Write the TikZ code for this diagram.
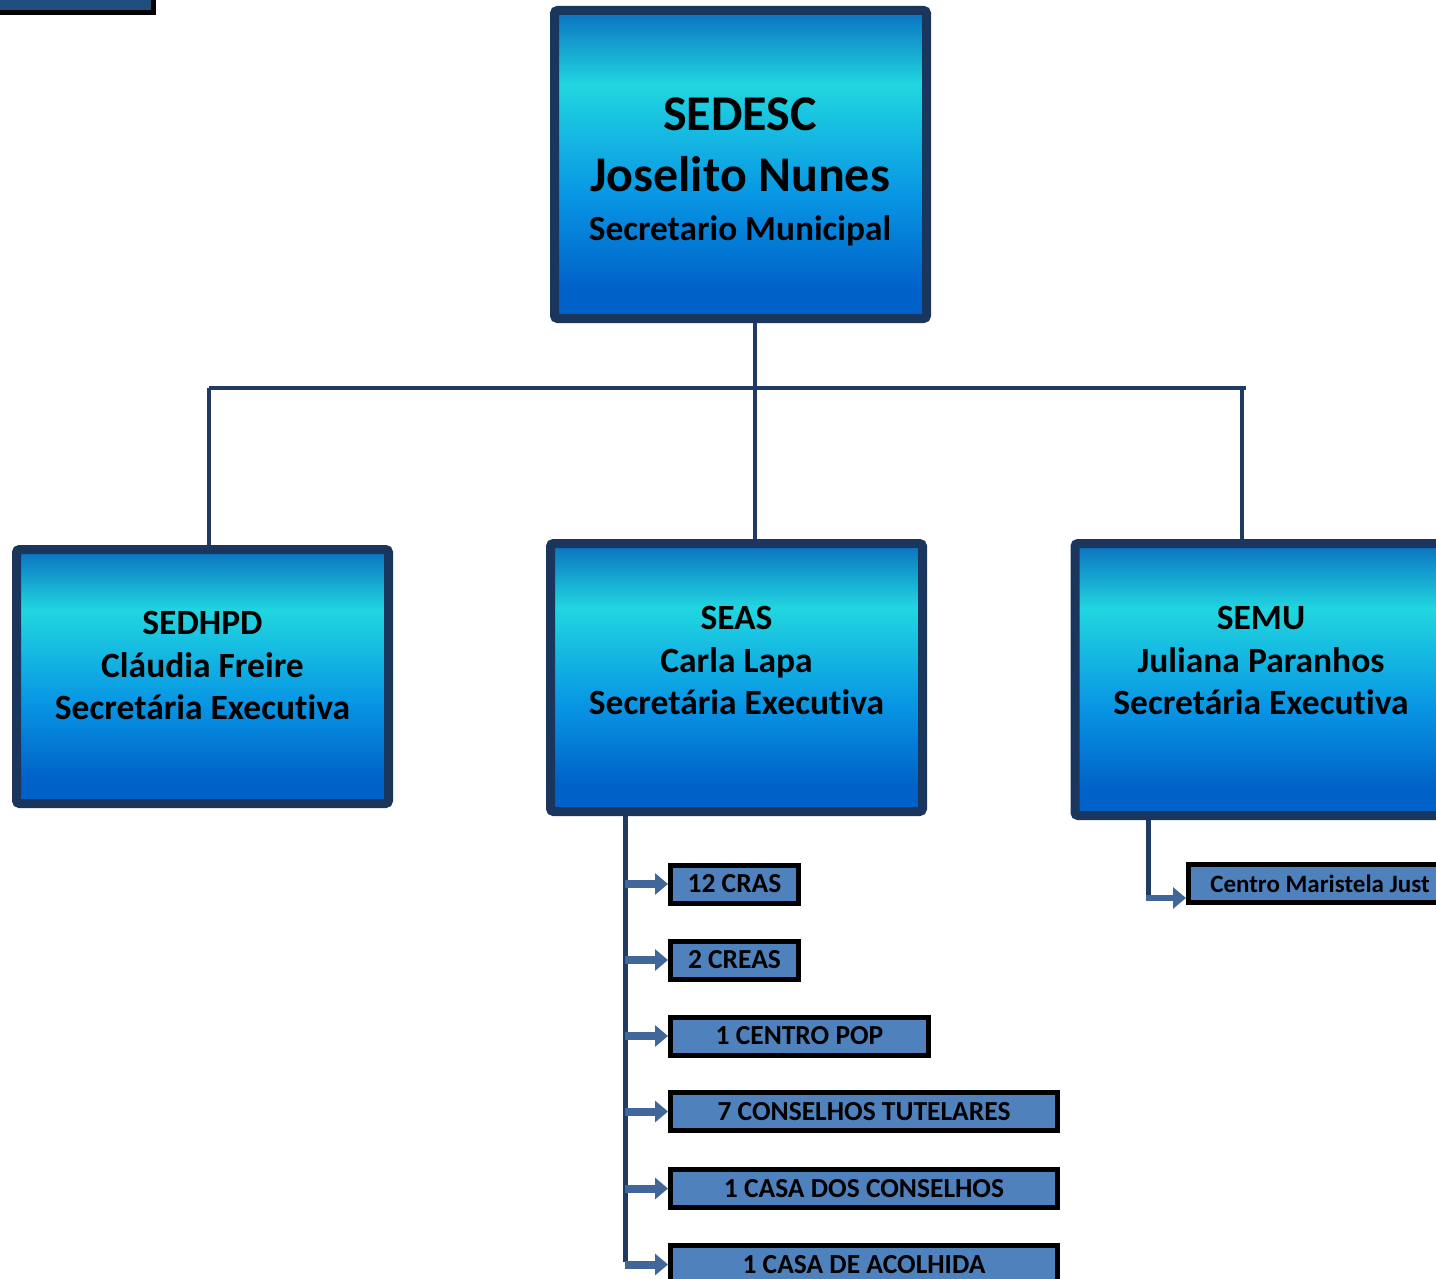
\documentclass[tikz,border=0pt]{standalone}
\usepackage{fontspec}
\setmainfont{Carlito}[Ligatures=NoCommon]
\usetikzlibrary{arrows.meta,positioning}

\definecolor{moldura}{RGB}{26,54,93}
\definecolor{ramo}{RGB}{31,58,99}
\definecolor{seta}{RGB}{65,103,154}
\definecolor{unidade}{RGB}{79,129,189}
\definecolor{canto}{RGB}{31,78,126}
\definecolor{gtopo}{RGB}{10,112,192}
\definecolor{gciano}{RGB}{33,214,224}
\definecolor{gmeio}{RGB}{8,150,228}
\definecolor{gbase}{RGB}{0,98,200}

\pgfdeclareverticalshading{secgrad}{100bp}{color(0bp)=(gbase); color(25bp)=(gbase);
  color(30bp)=(gbase); color(45bp)=(gmeio); color(63bp)=(gciano); color(75bp)=(gtopo);
  color(100bp)=(gtopo)}

\tikzset{
  secbox/.style={draw=moldura, line width=9pt, rounded corners=3pt, shading=secgrad,
    minimum width=372pt, inner sep=0pt},
  sectxt/.style={anchor=north, inner sep=0pt, align=center,
    font=\bfseries\fontsize{35.5}{42.5}\selectfont},
  unitbox/.style={draw=black, line width=5pt, fill=unidade, minimum height=38pt,
    inner sep=0pt, font=\bfseries\fontsize{27.5}{32}\selectfont},
  tree/.style={draw=ramo, line width=4pt},
  feed/.style={draw=seta, line width=8pt, -{Triangle[length=13pt,width=21pt]}},
}

\begin{document}
\begin{tikzpicture}[x=1pt, y=-1pt]
  \useasboundingbox (0,0) rectangle (1436,1279);
  \clip (0,0) rectangle (1436,1279);

  % Caixa cortada no canto
  \node[draw=black, line width=5pt, fill=canto, minimum width=183.5pt,
    minimum height=42.5pt] (canto) at (61.75,-8.75) {};

  % Secretario municipal
  \node[secbox, minimum height=308pt] (sedesc) at (740.5,164.5) {};
  \node[anchor=north, inner sep=0pt, align=center,
    font=\bfseries\fontsize{50}{61}\selectfont] (sedesc-t) at (740,98)
    {SEDESC\\Joselito Nunes\\[-12pt]
     {\fontsize{35.3}{47}\selectfont Secretario Municipal}};

  % Secretarias executivas
  \node[secbox, minimum height=254pt] (sedhpd) at (202.5,676.5) {};
  \node[sectxt] (sedhpd-t) at (202.5,611.5) {SEDHPD\\Cláudia Freire\\Secretária Executiva};

  \node[secbox, minimum height=268pt] (seas) at (736.5,677.5) {};
  \node[sectxt] (seas-t) at (736.5,606.5) {SEAS\\Carla Lapa\\Secretária Executiva};

  \node[secbox, minimum height=272pt] (semu) at (1261,679.5) {};
  \node[sectxt] (semu-t) at (1261,606.5) {SEMU\\Juliana Paranhos\\Secretária Executiva};

  % Unidades da SEAS
  \node[unitbox, minimum width=128pt] (cras) at (734.5,884) {12 CRAS};
  \node[unitbox, minimum width=128pt] (creas) at (734.5,960) {2 CREAS};
  \node[unitbox, minimum width=258pt] (pop) at (799.5,1036) {1 CENTRO POP};
  \node[unitbox, minimum width=387pt] (conselhos) at (864,1111.5) {7 CONSELHOS TUTELARES};
  \node[unitbox, minimum width=387pt] (casa) at (864,1188.5) {1 CASA DOS CONSELHOS};
  \node[unitbox, minimum width=387pt] (acolhida) at (864,1264.5) {1 CASA DE ACOLHIDA};

  % Unidade da SEMU
  \node[unitbox, minimum width=263pt, font=\bfseries\fontsize{25}{30}\selectfont]
    (maristela) at (1320,883.5) {Centro Maristela Just};

  % Ligacoes
  \coordinate (esq) at (209,388);
  \coordinate (no) at (755,388);
  \coordinate (dir) at (1242,388);
  \draw[tree] (esq) -- ([xshift=4pt]dir);
  \draw[tree] (sedesc.south -| no) -- (seas.north -| no);
  \draw[tree] (esq) -- (sedhpd.north -| esq);
  \draw[tree] (dir) -- (semu.north -| dir);

  \coordinate (tronco) at (625,1262);
  \draw[tree, line width=5pt] (seas.south -| tronco) -- (tronco);
  \foreach \u in {cras,creas,pop,conselhos,casa,acolhida}
    \draw[feed] (tronco |- \u.west) -- (\u.west);

  \coordinate (desvio) at (1148.5,898);
  \draw[tree, line width=5pt] (semu.south -| desvio) -- ([yshift=2.5pt]desvio);
  \draw[feed, line width=6pt] ([xshift=-2.5pt]desvio) -- (desvio -| maristela.west);
\end{tikzpicture}
\end{document}
